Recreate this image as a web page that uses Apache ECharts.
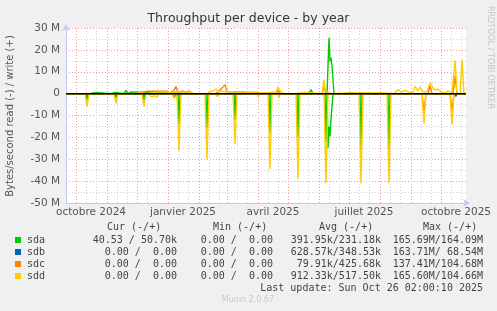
<!DOCTYPE html>
<html><head><meta charset="utf-8">
<script src="https://cdn.jsdelivr.net/npm/echarts@6/dist/echarts.min.js"></script>
<style>html,body{margin:0;padding:0;background:#f0f0f0;}#c{width:497px;height:311px;}</style>
</head><body><div id="c"></div>
<script>
// ---- data (values in millions of bytes/second; read negative, write positive) ----
const startDate = '2024-09-21';
const endDate = '2025-10-26';
const xTickDates = ['2024-10-16','2025-01-16','2025-04-16','2025-07-16','2025-10-16'];
const xTickLabels = ['octobre 2024','janvier 2025','avril 2025','juillet 2025','octobre 2025'];
const yTicks = [-50,-40,-30,-20,-10,0,10,20,30];

const sdaRead = [['2024-09-21',0],['2024-10-11',0],['2024-10-12',-3],['2024-10-13',0],['2024-11-09',0],['2024-11-10',-2],['2024-11-11',0],
 ['2024-12-07',0],['2024-12-08',-3],['2024-12-09',0],['2025-01-11',0],['2025-01-12',-14],['2025-01-13',0],['2025-02-08',0],['2025-02-09',-16],['2025-02-10',0],
 ['2025-03-08',0],['2025-03-09',-12],['2025-03-10',0],['2025-04-12',0],['2025-04-13',-18],['2025-04-14',0],['2025-05-10',0],['2025-05-11',-20],['2025-05-12',0],
 ['2025-06-07',0],['2025-06-08',-22],['2025-06-09',0],['2025-06-10',-24.8],['2025-06-11',-15],['2025-06-12',-19.5],['2025-06-13',-12],['2025-06-15',0],
 ['2025-07-12',0],['2025-07-13',-30],['2025-07-14',0],['2025-08-09',0],['2025-08-10',-30],['2025-08-11',0],['2025-10-26',0]];
const sdaWrite = [['2024-09-21',0],['2024-10-15',0],['2024-10-16',0.5],['2024-10-18',0.3],['2024-10-20',0.5],['2024-10-23',0.4],['2024-10-24',0],
 ['2024-11-05',0],['2024-11-06',0.5],['2024-11-09',0.5],['2024-11-10',0],['2024-11-18',0],['2024-11-20',1.5],['2024-11-22',0],['2024-11-24',0],['2024-11-25',0.8],['2024-11-26',0],
 ['2025-01-28',0],['2025-01-29',0.4],['2025-01-30',0],['2025-05-22',0],['2025-05-24',1.9],['2025-05-26',0],
 ['2025-06-09',0],['2025-06-11',25.5],['2025-06-12',14.8],['2025-06-13',16.5],['2025-06-14',12.5],['2025-06-16',0],['2025-10-26',0]];
const sdbRead = [['2024-09-21',0],['2025-09-25',0],['2025-09-26',-0.5],['2025-09-27',0],['2025-10-14',0],['2025-10-16',-1.2],['2025-10-17',0],['2025-10-26',0]];
const sdbWrite = [['2024-09-21',0],['2025-10-26',0]];
const sdcRead = [['2024-09-21',0],['2025-01-06',0],['2025-01-08',-1.5],['2025-01-10',0],['2025-09-12',0],['2025-09-14',-8],['2025-09-16',0],
 ['2025-10-10',0],['2025-10-12',-8],['2025-10-14',0],['2025-10-26',0]];
const sdcWrite = [['2024-09-21',0],['2024-11-30',0],['2024-12-02',0.8],['2024-12-07',0.8],['2024-12-09',0],['2024-12-11',1.1],['2024-12-31',1.1],['2025-01-02',0],
 ['2025-01-07',1.5],['2025-01-09',3.3],['2025-01-11',0.5],['2025-01-13',0],['2025-01-16',1.2],['2025-01-19',0.6],['2025-01-22',1.2],['2025-01-25',0],
 ['2025-02-17',0],['2025-02-21',1.0],['2025-02-27',4.1],['2025-03-01',0.8],['2025-03-12',0.8],['2025-03-14',0],['2025-04-19',0],['2025-04-21',1.5],['2025-04-23',0],
 ['2025-06-04',0],['2025-06-06',3.0],['2025-06-08',0],['2025-09-18',0],['2025-09-20',3.5],['2025-09-22',0],['2025-10-13',0],['2025-10-15',8],['2025-10-17',0],['2025-10-26',0]];
const sddRead = [['2024-09-21',0],['2024-10-10',0],['2024-10-12',-6],['2024-10-14',0],['2024-11-08',0],['2024-11-10',-4.5],['2024-11-12',0],
 ['2024-12-06',0],['2024-12-08',-6],['2024-12-10',0],['2024-12-13',0],['2024-12-15',-1.5],['2024-12-18',-1],['2024-12-21',-1.5],['2024-12-23',0],
 ['2025-01-05',0],['2025-01-07',-2],['2025-01-10',-1],['2025-01-12',-26],['2025-01-14',0],['2025-02-07',0],['2025-02-09',-30],['2025-02-11',0],
 ['2025-02-17',0],['2025-02-19',-1.3],['2025-02-21',-1.2],['2025-02-23',0],['2025-03-07',0],['2025-03-09',-23],['2025-03-11',0],
 ['2025-03-31',0],['2025-04-01',-1.5],['2025-04-02',0],['2025-04-11',0],['2025-04-13',-34.5],['2025-04-15',0],['2025-04-21',0],['2025-04-22',-2],['2025-04-23',0],
 ['2025-05-09',0],['2025-05-11',-39],['2025-05-13',0],['2025-06-06',0],['2025-06-08',-41],['2025-06-10',0],['2025-07-11',0],['2025-07-13',-41],['2025-07-15',0],
 ['2025-08-08',0],['2025-08-10',-41],['2025-08-12',0],['2025-09-12',0],['2025-09-14',-13.7],['2025-09-16',0],['2025-10-10',0],['2025-10-12',-14.2],['2025-10-14',0],['2025-10-26',0]];
const sddWrite = [['2024-09-21',0],['2024-11-30',0],['2024-12-02',0.8],['2024-12-05',0.6],['2024-12-07',0],['2024-12-10',0],['2024-12-12',0.8],['2024-12-20',0.7],['2024-12-28',0.8],['2025-01-01',0.5],
 ['2025-01-04',0],['2025-01-06',1.0],['2025-01-08',1.8],['2025-01-10',0.8],['2025-01-12',0],['2025-01-17',0.9],['2025-01-20',0.5],['2025-01-23',1.0],['2025-01-26',0],
 ['2025-02-10',0],['2025-02-12',1.0],['2025-02-15',1.2],['2025-02-18',2.1],['2025-02-21',0.8],['2025-02-25',1.0],['2025-03-01',1.0],['2025-03-06',0.8],['2025-03-10',0.8],['2025-03-12',0],
 ['2025-03-17',0],['2025-03-19',0.8],['2025-03-24',0.7],['2025-03-30',0.8],['2025-04-01',0],['2025-04-05',0],['2025-04-07',0.6],['2025-04-15',0.6],['2025-04-19',0.7],['2025-04-21',3.0],['2025-04-24',0.6],['2025-04-28',0],
 ['2025-05-08',0],['2025-05-10',0.5],['2025-05-18',0.5],['2025-05-20',0],['2025-06-04',0],['2025-06-06',6.4],['2025-06-07',2.0],['2025-06-09',0.5],['2025-06-11',0],
 ['2025-06-14',0],['2025-06-16',0.4],['2025-07-04',0.4],['2025-07-05',0.6],['2025-07-07',0.3],['2025-07-20',0.3],['2025-08-05',0.3],['2025-08-15',0],
 ['2025-08-17',0.5],['2025-08-19',1.8],['2025-08-22',0.8],['2025-08-24',0.5],['2025-08-27',1.5],['2025-08-31',0.3],['2025-09-03',0.8],['2025-09-05',3.3],['2025-09-08',1.2],['2025-09-10',3.0],['2025-09-13',0.8],['2025-09-17',1.0],['2025-09-20',4.9],['2025-09-24',1.8],['2025-09-28',2.0],['2025-10-02',0.5],['2025-10-06',0.3],['2025-10-08',1.3],['2025-10-12',0.5],['2025-10-14',0],['2025-10-15',15.2],['2025-10-17',0],['2025-10-20',0],['2025-10-22',15.5],['2025-10-24',0],['2025-10-26',0]];

const devices = ['sda','sdb','sdc','sdd'];
const deviceColors = ['#00CC00','#0066B3','#FF8000','#FFCC00'];
const curText = ['40.53 / 50.70k','0.00 /  0.00','0.00 /  0.00','0.00 /  0.00'];
const minText = ['0.00 /  0.00','0.00 /  0.00','0.00 /  0.00','0.00 /  0.00'];
const avgText = ['391.95k/231.18k','628.57k/348.53k',' 79.91k/425.68k','912.33k/517.50k'];
const maxText = ['165.69M/164.09M','163.71M/ 68.54M','137.41M/104.68M','165.60M/104.66M'];
const lastUpdate = 'Last update: Sun Oct 26 02:00:10 2025';

// ---- build category axis (one per day) ----
const cats = [];
for (let t = Date.parse(startDate + 'T00:00:00Z'); t <= Date.parse(endDate + 'T00:00:00Z'); t += 86400000) {
  cats.push(new Date(t).toISOString().slice(0, 10));
}
const readSets = [sdaRead, sdbRead, sdcRead, sddRead];
const writeSets = [sdaWrite, sdbWrite, sdcWrite, sddWrite];

const series = [];
devices.forEach((d, i) => {
  [readSets[i], writeSets[i]].forEach((data, k) => {
    series.push({ type: 'line', name: d + (k ? ' write' : ' read'), xAxisIndex: 1, data: data, symbol: 'none',
      lineStyle: { color: deviceColors[i], width: 1.4 }, itemStyle: { color: deviceColors[i] }, z: 3 + i });
  });
});
series.push({ type: 'line', xAxisIndex: 1, data: [[startDate, 0], [endDate, 0]], symbol: 'none',
  lineStyle: { color: '#000', width: 1.5 }, z: 20 });

const mono = 'DejaVu Sans Mono';
const txtColor = '#444';
const graphic = [
  { type: 'text', left: 'center', top: 12, style: { text: 'Throughput per device - by year', font: '12.5px "DejaVu Sans"', fill: '#333' } },
  { type: 'text', x: 10, y: 116, rotation: Math.PI / 2, style: { text: 'Bytes/second read (-) / write (+)', font: '10px "DejaVu Sans"', fill: '#555', align: 'center', verticalAlign: 'middle' } },
  { type: 'text', x: 490, y: 6, rotation: -Math.PI / 2, style: { text: 'RRDTOOL / TOBI OETIKER', font: '8px "DejaVu Sans"', fill: '#c4c4c4', align: 'left', verticalAlign: 'middle' } },
  { type: 'text', x: 107, y: 227, style: { text: 'Cur (-/+)', font: '10px "' + mono + '"', fill: txtColor, verticalAlign: 'middle' } },
  { type: 'text', x: 213, y: 227, style: { text: 'Min (-/+)', font: '10px "' + mono + '"', fill: txtColor, verticalAlign: 'middle' } },
  { type: 'text', x: 319, y: 227, style: { text: 'Avg (-/+)', font: '10px "' + mono + '"', fill: txtColor, verticalAlign: 'middle' } },
  { type: 'text', x: 423, y: 227, style: { text: 'Max (-/+)', font: '10px "' + mono + '"', fill: txtColor, verticalAlign: 'middle' } },
  { type: 'text', x: 483, y: 288, style: { text: lastUpdate, font: '10px "' + mono + '"', fill: txtColor, align: 'right', verticalAlign: 'middle' } },
  { type: 'text', x: 248, y: 300, style: { text: 'Munin 2.0.67', font: '8px "DejaVu Sans"', fill: '#c8c8c8', align: 'center', verticalAlign: 'middle' } }
];
devices.forEach((d, i) => {
  const y = 240 + i * 12;
  graphic.push({ type: 'rect', shape: { x: 15, y: y - 3, width: 6, height: 6 }, style: { fill: deviceColors[i] } });
  graphic.push({ type: 'text', x: 27, y: y, style: { text: d, font: '10px "' + mono + '"', fill: txtColor, verticalAlign: 'middle' } });
  graphic.push({ type: 'text', x: 177, y: y, style: { text: curText[i], font: '10px "' + mono + '"', fill: txtColor, align: 'right', verticalAlign: 'middle' } });
  graphic.push({ type: 'text', x: 273, y: y, style: { text: minText[i], font: '10px "' + mono + '"', fill: txtColor, align: 'right', verticalAlign: 'middle' } });
  graphic.push({ type: 'text', x: 381, y: y, style: { text: avgText[i], font: '10px "' + mono + '"', fill: txtColor, align: 'right', verticalAlign: 'middle' } });
  graphic.push({ type: 'text', x: 483, y: y, style: { text: maxText[i], font: '10px "' + mono + '"', fill: txtColor, align: 'right', verticalAlign: 'middle' } });
});

const axisBlue = '#c6c6f2';
const redGrid = '#f09a9a';
const greyGrid = '#cfcfcf';
const chart = echarts.init(document.getElementById('c'), null, { renderer: 'canvas' });
chart.setOption({
  backgroundColor: '#f0f0f0',
  animation: false,
  grid: { left: 66, right: 31, top: 28, height: 175, show: true, backgroundColor: '#fff', borderWidth: 0 },
  xAxis: [
    { type: 'category', data: cats, boundaryGap: false, position: 'bottom',
      axisLine: { show: false }, axisTick: { show: false }, axisLabel: { show: false },
      splitLine: { show: true, interval: (idx, v) => { const dd = v.slice(8); return dd === '11' || dd === '21'; },
        lineStyle: { color: greyGrid, type: [1, 2], width: 1 } } },
    { type: 'category', data: cats, boundaryGap: false, position: 'bottom',
      axisLine: { show: true, lineStyle: { color: axisBlue, width: 1 }, symbol: ['none', 'arrow'], symbolSize: [6, 7], symbolOffset: [0, 4] },
      axisTick: { show: false },
      axisLabel: { show: true, interval: (idx, v) => xTickDates.indexOf(v) >= 0, formatter: v => xTickLabels[xTickDates.indexOf(v)],
        color: '#555', fontSize: 10.5, fontFamily: 'DejaVu Sans', margin: 4 },
      splitLine: { show: true, interval: (idx, v) => v.slice(8) === '01', lineStyle: { color: redGrid, type: [1, 2], width: 1 } } }
  ],
  yAxis: { type: 'value', min: yTicks[0], max: yTicks[yTicks.length - 1], interval: 10,
    axisLine: { show: true, lineStyle: { color: axisBlue, width: 1 }, symbol: ['none', 'arrow'], symbolSize: [6, 7], symbolOffset: [0, 4] },
    axisTick: { show: false },
    axisLabel: { formatter: v => v === 0 ? '0' : v + ' M', color: '#555', fontSize: 10.5, fontFamily: 'DejaVu Sans', margin: 6 },
    splitLine: { show: true, lineStyle: { color: redGrid, type: [1, 2], width: 1 } },
    minorTick: { show: false, splitNumber: 2 },
    minorSplitLine: { show: true, lineStyle: { color: greyGrid, type: [1, 2], width: 1 } } },
  series: series,
  graphic: graphic
});
</script></body></html>
